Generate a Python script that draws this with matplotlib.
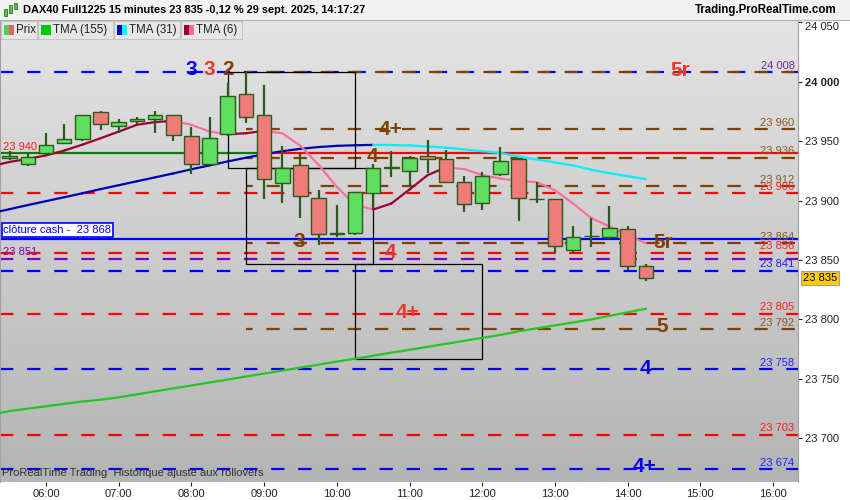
import numpy as np
import matplotlib.pyplot as plt
from matplotlib.patches import Rectangle
from matplotlib.collections import LineCollection
from matplotlib.colors import LinearSegmentedColormap
from matplotlib.transforms import blended_transform_factory

plt.rcParams['font.family'] = ['Liberation Sans', 'DejaVu Sans']

# 15 minute candles
times = ["05:30", "05:45", "06:00", "06:15", "06:30", "06:45", "07:00", "07:15", "07:30",
         "07:45", "08:00", "08:15", "08:30", "08:45", "09:00", "09:15", "09:30", "09:45",
         "10:00", "10:15", "10:30", "10:45", "11:00", "11:15", "11:30", "11:45", "12:00",
         "12:15", "12:30", "12:45", "13:00", "13:15", "13:30", "13:45", "14:00", "14:15"]
opens = [23936, 23931, 23940, 23948, 23951.5, 23974.5, 23962.5, 23967, 23968.5,
         23972, 23954, 23930.5, 23956, 23989.5, 23972, 23915, 23929.5, 23902.5,
         23872, 23873, 23906, 23927.5, 23925, 23937.5, 23935, 23916, 23898,
         23922, 23935, 23901, 23901, 23858.5, 23870, 23869, 23876, 23845]
highs = [23942, 23940, 23957, 23964.5, 23972, 23975, 23969, 23970.5, 23975.5,
         23972, 23962, 23970, 23999, 24008, 23997, 23946, 23939, 23909,
         23896, 23907, 23931, 23942, 23937.5, 23951, 23942.5, 23921, 23924,
         23945, 23936, 23916, 23901, 23879, 23885, 23895, 23879, 23846.5]
lows = [23934, 23929, 23938, 23948, 23950, 23959, 23957, 23964, 23957,
        23950.5, 23922, 23930, 23954, 23965.5, 23901, 23898, 23885, 23863,
        23869, 23871, 23893, 23920, 23911.5, 23923, 23915, 23890, 23892,
        23921, 23883, 23898, 23856, 23856.5, 23861, 23868, 23842, 23832]
closes = [23937.5, 23937, 23947, 23952, 23972, 23964, 23966, 23969, 23972,
          23955.5, 23931, 23953, 23988, 23970, 23918.5, 23927.5, 23903.5, 23872,
          23872.5, 23907, 23927, 23928, 23936, 23935, 23916, 23897, 23921,
          23933, 23902, 23900.5, 23862, 23869, 23870.5, 23877, 23845, 23835]

# moving averages (one value per candle, first one is off screen)
ma_times = ["05:15"] + times
tma155 = [23720, 23723, 23725, 23727, 23729, 23731, 23732.5, 23734.5, 23737, 23739.5,
          23742, 23744.5, 23747, 23749.5, 23752, 23754.5, 23757, 23759.5, 23762,
          23764.5, 23767, 23769.5, 23772, 23774.5, 23777, 23779.5, 23782, 23784.5,
          23787, 23790, 23792.5, 23795, 23797.5, 23800, 23803, 23806, 23809]
tma31 = [23889.4, 23892.8, 23896.2, 23899.5, 23902.8, 23906.1, 23909.6, 23912.9,
         23916.2, 23919.5, 23922.8, 23926.3, 23929.6, 23932.9, 23936, 23939,
         23941.5, 23943.5, 23945, 23946, 23946.5, 23946.8, 23946.7, 23946.3,
         23945.5, 23944.5, 23943, 23941.5, 23940, 23937, 23934.5, 23932, 23929.5,
         23926, 23923, 23920.5, 23918]
tma6 = [23929, 23932.5, 23935, 23938, 23942, 23947, 23952.4, 23958, 23963.7, 23966,
        23967, 23963.7, 23958, 23955.8, 23956.6, 23958.6, 23956.6, 23946, 23930,
        23911.5, 23896.6, 23892.4, 23897.5, 23909.3, 23921.4, 23927.9, 23926.5,
        23921.5, 23918.5, 23916.3, 23915.5, 23908.7, 23897.5, 23885.3, 23878.3,
        23870.7, 23864.2]

# horizontal levels
full_levels = [24008, 23906, 23856, 23851, 23841, 23805, 23758, 23703, 23674]
full_colors = ['#0000ff', '#ff0000', '#ff0000', '#8000c0', '#0000ff', '#ff0000',
               '#0000ff', '#ff0000', '#0000ff']
brown_levels = [24008, 23960, 23936, 23912, 23864, 23792]
brown_start = "08:45"
cash_close = 23868
prev_level = 23940
prev_switch = "09:00"

right_labels = [24008, 23960, 23936, 23912, 23906, 23864, 23856, 23841, 23805,
                23792, 23758, 23703, 23674]
right_colors = ['#6a2a90', '#8a5a20', '#8a5a20', '#8a5a20', '#ff2020', '#8a5a20',
                '#ff2020', '#2020ff', '#ff2020', '#8a5a20', '#2020ff', '#ff2020', '#2020ff']

# boxes
box_start = ["08:30", "08:45", "10:15"]
box_end = ["10:15", "10:30", "12:00"]
box_low = [23927.5, 23847, 23766.5]
box_high = [24008, 23927.5, 23847]

# wave labels
wave_text = ["3", "3", "2", "5r", "4+", "4", "3", "4", "4+", "5r", "5", "4", "4+"]
wave_time = [8.0, 8.24, 8.5, 14.72, 10.74, 10.49, 9.49, 10.74, 10.98, 14.49, 14.48, 14.24, 14.24]
wave_price = [24010.5, 24010.5, 24010.5, 24009, 23959.4, 23937, 23865.4, 23856.5,
              23805.7, 23864.6, 23794, 23759, 23676]
wave_color = ['#0000ee', '#ee3333', '#804000', '#ee3333', '#804000', '#804000', '#804000',
              '#ee3333', '#ee3333', '#804000', '#804000', '#0000ee', '#0000ee']

hour_ticks = [6, 7, 8, 9, 10, 11, 12, 13, 14, 15, 16]
price_ticks = [23700, 23750, 23800, 23850, 23900, 23950, 24000, 24050]
last_price = 23835


def hours(t):
    h, m = t.split(":")
    return int(h) + int(m) / 60


def fmt(v):
    return f"{int(round(v)):,}".replace(",", " ")


x = np.array([hours(t) for t in times])
o = np.array(opens)
h = np.array(highs)
l = np.array(lows)
c = np.array(closes)
xm = np.array([hours(t) for t in ma_times])

W, H = 850, 500
fig = plt.figure(figsize=(8.5, 5), dpi=100)
fig.patch.set_facecolor('white')
ax = fig.add_axes([0, 18 / H, 798 / W, 461 / H])
xlim = (5.367, 16.344)
ylim = (23663.3, 24051)

bg = LinearSegmentedColormap.from_list('bg', ['#e4e4e4', '#b4b4b4'])
ax.imshow(np.linspace(0, 1, 256).reshape(-1, 1), extent=[xlim[0], xlim[1], ylim[0], ylim[1]],
          aspect='auto', cmap=bg, origin='upper', zorder=0)

dash = (0, (6, 6.2))
for lv, col in zip(full_levels, full_colors):
    ax.axhline(lv, color=col, lw=1.6, ls=dash, zorder=2)
xb = hours(brown_start)
for lv in brown_levels:
    ax.hlines(lv, xb, xlim[1], color='#804000', lw=1.6, ls=(3, (6, 6.2)), zorder=2)
xs = hours(prev_switch)
ax.hlines(prev_level, xlim[0], xs, color='#008000', lw=1.6, zorder=2)
ax.hlines(prev_level, xs, xlim[1], color='#ff0000', lw=1.6, zorder=2)
ax.axhline(cash_close, color='#0000ff', lw=1.6, zorder=2)

for s, e, lo, hi in zip(box_start, box_end, box_low, box_high):
    ax.add_patch(Rectangle((hours(s), lo), hours(e) - hours(s), hi - lo, fill=False,
                           ec='black', lw=0.9, zorder=3))

# moving averages
ax.plot(xm, tma155, color='#22c822', lw=1.6, zorder=4)


def two_tone(vals, up, down):
    vals = np.array(vals)
    pts = np.column_stack([xm, vals]).reshape(-1, 1, 2)
    segs = np.concatenate([pts[:-1], pts[1:]], axis=1)
    cols = [up if d >= 0 else down for d in np.diff(vals)]
    ax.add_collection(LineCollection(segs, colors=cols, linewidths=1.6, zorder=4,
                                     capstyle='round'))


two_tone(tma31, '#0000b4', '#00f0ff')
two_tone(tma6, '#990033', '#ff6e9e')

# candles
up = c >= o
ax.vlines(x, l, h, color='#2b5a1c', lw=1.6, zorder=5)
ax.bar(x, np.where(np.abs(c - o) < 0.6, 0.3, c - o), bottom=o, width=0.2,
       color=np.where(up, '#5fdf5f', '#ef7b7b'), edgecolor='#2b5a1c', lw=1.0, zorder=6)

for t, tm, pr, col in zip(wave_text, wave_time, wave_price, wave_color):
    ax.text(tm, pr, t, color=col, fontsize=15, fontweight='bold', ha='center',
            va='center', zorder=8)

for lv, col in zip(right_labels, right_colors):
    ax.annotate(fmt(lv), (xlim[1], lv), xytext=(-2.5, 1), textcoords='offset points',
                ha='right', va='bottom', fontsize=8, color=col, zorder=7)
ax.annotate(fmt(prev_level), (xlim[0], prev_level), xytext=(2, 1), textcoords='offset points',
            ha='left', va='bottom', fontsize=8, color='#ff2020', zorder=7)
ax.annotate(fmt(23851), (xlim[0], 23851), xytext=(2, 1), textcoords='offset points',
            ha='left', va='bottom', fontsize=8, color='#8000c0', zorder=7)
ax.annotate("clôture cash -  " + fmt(cash_close), (xlim[0], cash_close), xytext=(2.5, 2.5),
            textcoords='offset points', ha='left', va='bottom', fontsize=8, color='#0000ff',
            bbox=dict(boxstyle='square,pad=0.15', fc='white', ec='#0000ff', lw=1.2), zorder=9)

ax.text(0.003, 0.008, "ProRealTime Trading  Historique ajusté aux rollovers",
        transform=ax.transAxes, fontsize=8, color='#303030', ha='left', va='bottom', zorder=9)

ax.set_xlim(*xlim)
ax.set_ylim(*ylim)
ax.yaxis.tick_right()
ax.set_yticks(price_ticks, [fmt(p) for p in price_ticks])
for lab in ax.get_yticklabels():
    if lab.get_text() == "24 000":
        lab.set_fontweight('bold')
    if lab.get_text() == "24 050":
        lab.set_va('top')
ax.set_xticks(hour_ticks, [f"{v:02d}:00" for v in hour_ticks])
ax.tick_params(axis='y', labelsize=8, length=3, width=0.8, pad=2, colors='#222222')
ax.tick_params(axis='x', labelsize=8, length=3, width=0.8, pad=2, colors='#222222')
for sp in ['top', 'bottom']:
    ax.spines[sp].set_visible(False)
ax.spines['right'].set_color('#a0a0a0')
ax.spines['left'].set_color('#a0a0a0')
ax.spines['left'].set_linewidth(1.5)

tr = blended_transform_factory(ax.transAxes, ax.transData)
ax.text(1.006, last_price, fmt(last_price), transform=tr, fontsize=8, color='black',
        ha='left', va='center', clip_on=False,
        bbox=dict(boxstyle='square,pad=0.15', fc='#ffcc00', ec='#a0a0a0', lw=0.8), zorder=10)


# header and legend row in pixel coordinates
def fx(px):
    return px / W


def fy(py):
    return 1 - py / H


fig.patches.append(Rectangle((0, fy(20)), 1, 20 / H, transform=fig.transFigure,
                             fc='#f2f2f2', ec='none', zorder=1))
fig.add_artist(plt.Line2D([0, 1], [fy(20), fy(20)], transform=fig.transFigure,
                          color='#b0b0b0', lw=0.8))
for px0, py0, ph in [(4, 9, 7), (9, 5, 8), (14, 3, 6)]:
    fig.patches.append(Rectangle((fx(px0), fy(py0 + ph)), 3 / W, ph / H,
                                 transform=fig.transFigure, fc='#44cc44', ec='#2b5a1c',
                                 lw=0.5, zorder=2))
fig.text(fx(23), fy(10), "DAX40 Full1225 15 minutes 23 835 -0,12 % 29 sept. 2025, 14:17:27",
         fontsize=7.9, fontweight='bold', ha='left', va='center', color='black')
fig.text(fx(837), fy(10), "Trading.ProRealTime.com", fontsize=8.3, fontweight='bold',
         ha='right', va='center', color='black')

legend_boxes = [(1, 37, "Prix", ['#55cc55', '#e06666']),
                (38, 113, "TMA (155)", ['#00c800', '#00c800']),
                (114, 180, "TMA (31)", ['#0000c0', '#00ffff']),
                (181, 242, "TMA (6)", ['#990033', '#ff6699'])]
for bx0, bx1, txt, cols in legend_boxes:
    fig.patches.append(Rectangle((fx(bx0), fy(39)), (bx1 - bx0) / W, 18 / H,
                                 transform=fig.transFigure, fc='#e6e6e6', ec='#c4c4c4',
                                 lw=0.8, zorder=2))
    fig.patches.append(Rectangle((fx(bx0 + 3), fy(35)), 5 / W, 10 / H,
                                 transform=fig.transFigure, fc=cols[0], ec='none', zorder=3))
    fig.patches.append(Rectangle((fx(bx0 + 8), fy(35)), 5 / W, 10 / H,
                                 transform=fig.transFigure, fc=cols[1], ec='none', zorder=3))
    fig.text(fx(bx0 + 15), fy(30), txt, fontsize=8.3, ha='left', va='center',
             color='#202020', zorder=4)

fig.savefig("out.png", dpi=100)
